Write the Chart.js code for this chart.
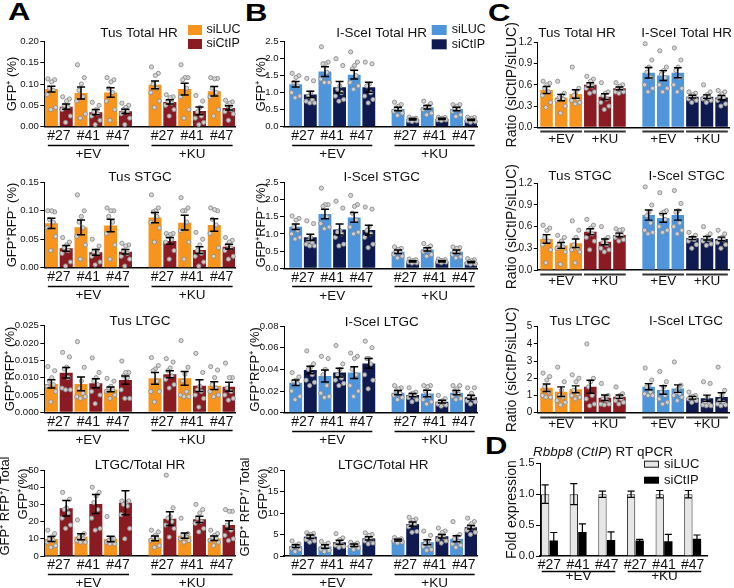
<!DOCTYPE html>
<html><head><meta charset="utf-8">
<script src="https://cdn.jsdelivr.net/npm/chart.js@4/dist/chart.umd.min.js"></script>
<style>
html,body{margin:0;padding:0;background:#fff;}
#root{position:relative;width:734px;height:588px;overflow:hidden;font-family:"Liberation Sans",Arial,Helvetica,sans-serif;}
canvas{position:absolute;}
.lab{position:absolute;font-weight:bold;font-size:23px;line-height:23px;transform:scaleX(1.35);transform-origin:0 0;color:#000;}
</style></head><body><div id="root">
<div class="lab" style="left:8px;top:1px">A</div>
<div class="lab" style="left:245px;top:2px">B</div>
<div class="lab" style="left:488px;top:2px">C</div>
<div class="lab" style="left:485px;top:435px">D</div>
</div>
<script>
// ---------------- categories ----------------
const strains = ['#27', '#41', '#47'];
const treatments = ['+EV', '+KU'];
const seriesNames = ['siLUC', 'siCtIP'];

// ---------------- Panel A: Tus reporter (order: EV #27,#41,#47, KU #27,#41,#47) ----------------
const tusTotalLuc = [0.088, 0.079, 0.080, 0.098, 0.088, 0.083];
const tusTotalLucSem = [0.007, 0.014, 0.011, 0.009, 0.014, 0.011];
const tusTotalCtip = [0.047, 0.034, 0.036, 0.058, 0.037, 0.044];
const tusTotalCtipSem = [0.006, 0.006, 0.005, 0.005, 0.009, 0.005];
const tusTotalLucPts = [
  [0.112,0.110,0.105,0.090,0.085,0.075,0.045,0.040],
  [0.145,0.115,0.100,0.085,0.070,0.060,0.030,0.020],
  [0.115,0.110,0.105,0.090,0.080,0.060,0.040,0.015],
  [0.140,0.125,0.120,0.100,0.090,0.080,0.060,0.045],
  [0.145,0.115,0.115,0.110,0.090,0.070,0.040,0.020],
  [0.115,0.113,0.112,0.090,0.080,0.070,0.040,0.025]];
const tusTotalCtipPts = [
  [0.070,0.065,0.060,0.050,0.045,0.040,0.025,0.010],
  [0.057,0.050,0.040,0.035,0.030,0.025,0.015,0.005],
  [0.055,0.050,0.045,0.040,0.035,0.030,0.020,0.005],
  [0.075,0.070,0.068,0.060,0.055,0.050,0.040,0.025],
  [0.073,0.060,0.045,0.035,0.025,0.020,0.010,0.005],
  [0.062,0.058,0.055,0.050,0.040,0.035,0.030,0.015]];

const tusStgcLuc = [0.078, 0.071, 0.074, 0.088, 0.079, 0.075];
const tusStgcLucSem = [0.009, 0.013, 0.011, 0.009, 0.013, 0.011];
const tusStgcCtip = [0.034, 0.027, 0.028, 0.047, 0.031, 0.037];
const tusStgcCtipSem = [0.005, 0.005, 0.004, 0.006, 0.006, 0.004];
const tusStgcLucPts = [
  [0.100,0.098,0.100,0.085,0.080,0.070,0.055,0.030],
  [0.128,0.100,0.090,0.080,0.070,0.055,0.040,0.015],
  [0.105,0.100,0.100,0.090,0.080,0.060,0.040,0.015],
  [0.128,0.105,0.100,0.098,0.090,0.080,0.070,0.045],
  [0.123,0.105,0.100,0.100,0.080,0.065,0.045,0.015],
  [0.105,0.100,0.102,0.085,0.075,0.060,0.035,0.020]];
const tusStgcCtipPts = [
  [0.053,0.045,0.040,0.035,0.030,0.025,0.010,0.003],
  [0.050,0.038,0.030,0.028,0.025,0.020,0.010,0.005],
  [0.043,0.040,0.038,0.030,0.025,0.020,0.015,0.003],
  [0.060,0.060,0.058,0.055,0.050,0.045,0.030,0.015],
  [0.062,0.050,0.040,0.030,0.025,0.020,0.010,0.003],
  [0.053,0.048,0.045,0.040,0.035,0.030,0.020,0.015]];

const tusLtgcLuc = [0.0082, 0.0082, 0.0066, 0.0098, 0.0098, 0.0077];
const tusLtgcLucSem = [0.0012, 0.0020, 0.0007, 0.0017, 0.0020, 0.0011];
const tusLtgcCtip = [0.0114, 0.0084, 0.0093, 0.0110, 0.0077, 0.0074];
const tusLtgcCtipSem = [0.0015, 0.0013, 0.0012, 0.0010, 0.0017, 0.0013];
const tusLtgcLucPts = [
  [0.0132,0.0120,0.0100,0.0090,0.0080,0.0075,0.0060,0.0030],
  [0.0204,0.0130,0.0090,0.0070,0.0055,0.0045,0.0045,0.0040],
  [0.0098,0.0090,0.0075,0.0070,0.0065,0.0060,0.0050,0.0040],
  [0.0158,0.0135,0.0125,0.0120,0.0090,0.0060,0.0060,0.0030],
  [0.0207,0.0130,0.0110,0.0090,0.0060,0.0050,0.0045,0.0045],
  [0.0132,0.0122,0.0100,0.0080,0.0070,0.0060,0.0050,0.0045]];
const tusLtgcCtipPts = [
  [0.0173,0.0160,0.0130,0.0125,0.0100,0.0070,0.0065,0.0065],
  [0.0157,0.0115,0.0100,0.0090,0.0080,0.0060,0.0050,0.0025],
  [0.0148,0.0115,0.0115,0.0105,0.0100,0.0065,0.0040,0.0040],
  [0.0155,0.0145,0.0128,0.0120,0.0105,0.0095,0.0080,0.0070],
  [0.0170,0.0115,0.0075,0.0065,0.0060,0.0050,0.0040,0.0015],
  [0.0142,0.0100,0.0100,0.0070,0.0060,0.0050,0.0040,0.0035]];

const tusFracLuc = [9.9, 11.2, 9.9, 10.3, 11.8, 10.3];
const tusFracLucSem = [1.5, 1.7, 1.6, 1.4, 1.5, 1.3];
const tusFracCtip = [27.7, 30.2, 31.0, 21.7, 21.3, 18.0];
const tusFracCtipSem = [4.5, 5.5, 7.0, 4.0, 1.8, 2.5];
const tusFracLucPts = [
  [15,13,11,10,9,8,6,5], [21,13,12,11,10,9,8,8], [23,10,10,9,8,8,7,7],
  [15,14,12,11,10,9,6,5], [22,13,12,12,11,10,9,8], [15,13,12,11,10,9,8,6]];
const tusFracCtipPts = [
  [37,33,28,27,25,22,18,16], [40,37,35,31,27,22,16,15], [32,32,31,30,29,24,16,10],
  [47,28,23,22,20,18,16,11], [30,27,25,22,20,19,16,14], [27,26,26,18,15,12,10,9]];

// ---------------- Panel B: I-SceI reporter ----------------
const isceTotalLuc = [1.25, 1.62, 1.53, 0.52, 0.57, 0.52];
const isceTotalLucSem = [0.08, 0.14, 0.13, 0.05, 0.05, 0.05];
const isceTotalCtip = [0.95, 1.16, 1.16, 0.22, 0.23, 0.20];
const isceTotalCtipSem = [0.09, 0.17, 0.15, 0.02, 0.02, 0.02];
const isceTotalLucPts = [
  [1.57,1.50,1.45,1.30,1.20,1.00,0.90,0.85],
  [2.35,1.90,1.85,1.85,1.60,1.40,1.30,1.30],
  [2.20,1.90,1.80,1.70,1.50,1.30,1.20,1.10],
  [0.72,0.65,0.60,0.55,0.50,0.45,0.40,0.33],
  [0.75,0.68,0.60,0.58,0.55,0.50,0.40,0.35],
  [0.65,0.65,0.60,0.55,0.50,0.45,0.35,0.30]];
const isceTotalCtipPts = [
  [1.42,1.35,1.00,0.90,0.80,0.75,0.70,0.70],
  [2.00,1.80,1.20,1.10,1.00,0.90,0.80,0.75],
  [1.90,1.85,1.25,1.20,1.00,0.90,0.80,0.70],
  [0.28,0.25,0.23,0.22,0.20,0.18,0.17,0.15],
  [0.28,0.27,0.25,0.23,0.22,0.20,0.20,0.18],
  [0.28,0.27,0.25,0.22,0.20,0.17,0.15,0.13]];

const isceStgcLuc = [1.21, 1.58, 1.48, 0.48, 0.55, 0.48];
const isceStgcLucSem = [0.08, 0.14, 0.14, 0.05, 0.05, 0.05];
const isceStgcCtip = [0.90, 1.13, 1.11, 0.20, 0.20, 0.18];
const isceStgcCtipSem = [0.09, 0.16, 0.14, 0.02, 0.02, 0.02];
const isceStgcLucPts = [
  [1.52,1.45,1.40,1.20,1.10,1.00,0.90,0.85],
  [2.33,1.85,1.85,1.80,1.50,1.30,1.20,1.15],
  [2.12,1.85,1.80,1.60,1.40,1.20,1.05,1.00],
  [0.62,0.58,0.55,0.50,0.45,0.40,0.35,0.30],
  [0.72,0.65,0.60,0.55,0.52,0.48,0.40,0.35],
  [0.62,0.60,0.58,0.50,0.45,0.40,0.33,0.30]];
const isceStgcCtipPts = [
  [1.38,1.30,0.90,0.80,0.75,0.70,0.65,0.65],
  [1.95,1.75,1.10,1.05,1.00,0.90,0.70,0.65],
  [1.78,1.72,1.20,1.10,1.00,0.90,0.70,0.60],
  [0.27,0.25,0.22,0.20,0.19,0.18,0.16,0.15],
  [0.27,0.25,0.23,0.21,0.20,0.19,0.18,0.16],
  [0.28,0.25,0.22,0.20,0.18,0.15,0.13,0.12]];

const isceLtgcLuc = [0.0277, 0.0338, 0.0370, 0.0185, 0.0178, 0.0185];
const isceLtgcLucSem = [0.0025, 0.0055, 0.0055, 0.0020, 0.0030, 0.0020];
const isceLtgcCtip = [0.0394, 0.0370, 0.0455, 0.0163, 0.0102, 0.0142];
const isceLtgcCtipSem = [0.0035, 0.0040, 0.0045, 0.0015, 0.0012, 0.0018];
const isceLtgcLucPts = [
  [0.037,0.033,0.030,0.029,0.027,0.020,0.015,0.012],
  [0.052,0.050,0.040,0.035,0.025,0.018,0.015,0.014],
  [0.055,0.052,0.050,0.040,0.035,0.025,0.020,0.015],
  [0.025,0.023,0.022,0.020,0.018,0.016,0.014,0.012],
  [0.025,0.025,0.024,0.020,0.015,0.012,0.010,0.008],
  [0.025,0.025,0.022,0.020,0.017,0.015,0.013,0.012]];
const isceLtgcCtipPts = [
  [0.057,0.045,0.042,0.040,0.035,0.030,0.028,0.025],
  [0.062,0.045,0.040,0.035,0.032,0.030,0.027,0.025],
  [0.066,0.060,0.050,0.050,0.045,0.035,0.030,0.022],
  [0.023,0.019,0.018,0.017,0.015,0.014,0.012,0.010],
  [0.016,0.013,0.011,0.010,0.009,0.008,0.007,0.006],
  [0.023,0.023,0.018,0.015,0.013,0.011,0.010,0.008]];

const isceFracLuc = [2.3, 2.2, 2.5, 3.7, 3.2, 4.0];
const isceFracLucSem = [0.3, 0.4, 0.3, 0.2, 0.6, 0.7];
const isceFracCtip = [4.5, 3.2, 4.1, 7.4, 4.6, 6.7];
const isceFracCtipSem = [0.4, 0.45, 0.4, 0.5, 0.4, 0.4];
const isceFracLucPts = [
  [3.5,2.8,2.5,2.3,2.0,1.8,1.5,1.0], [3.4,3.0,2.6,2.2,2.0,1.6,1.3,1.0], [3.2,3.0,2.7,2.5,2.3,2.2,1.8,1.5],
  [4.3,4.0,3.8,3.7,3.6,3.5,3.2,3.0], [5.8,4.8,3.5,3.0,2.5,2.2,1.5,1.3], [8.0,5.0,4.5,4.0,3.3,2.8,2.5,2.0]];
const isceFracCtipPts = [
  [5.4,5.2,5.0,4.8,4.3,3.8,3.5,3.2], [5.2,4.2,3.8,3.0,2.8,2.5,2.2,2.0], [5.4,5.0,4.8,4.2,3.8,3.5,3.0,2.8],
  [9.0,8.6,8.3,7.8,7.3,6.8,5.7,5.5], [6.5,5.8,5.5,4.8,4.3,3.8,3.5,3.0], [8.8,8.0,7.5,7.0,6.5,6.0,5.5,5.0]];

// ---------------- Panel C: ratios siCtIP/siLUC (EV #27,#41,#47, KU #27,#41,#47) ----------------
const ratioTusTotal = [0.527, 0.42, 0.47, 0.60, 0.433, 0.55];
const ratioTusTotalSem = [0.05, 0.045, 0.06, 0.03, 0.04, 0.02];
const ratioIsceTotal = [0.77, 0.73, 0.77, 0.433, 0.433, 0.42];
const ratioIsceTotalSem = [0.075, 0.07, 0.07, 0.02, 0.025, 0.03];
const ratioTusTotalPts = [
  [0.65,0.62,0.60,0.55,0.50,0.45,0.35,0.28], [0.65,0.48,0.45,0.42,0.40,0.38,0.30,0.20],
  [0.85,0.55,0.50,0.45,0.40,0.38,0.35,0.33], [0.72,0.68,0.65,0.60,0.58,0.55,0.50,0.48],
  [0.63,0.50,0.48,0.45,0.40,0.35,0.30,0.25], [0.63,0.60,0.58,0.55,0.53,0.50,0.50,0.48]];
const ratioIsceTotalPts = [
  [1.18,0.95,0.85,0.78,0.70,0.60,0.55,0.50], [1.08,0.85,0.80,0.75,0.70,0.60,0.55,0.50],
  [1.12,0.95,0.85,0.80,0.70,0.60,0.55,0.50], [0.50,0.48,0.46,0.44,0.42,0.40,0.38,0.35],
  [0.60,0.50,0.46,0.44,0.42,0.40,0.38,0.35], [0.52,0.50,0.47,0.44,0.42,0.38,0.33,0.30]];

const ratioTusStgc = [0.43, 0.34, 0.37, 0.53, 0.39, 0.485];
const ratioTusStgcSem = [0.06, 0.04, 0.06, 0.04, 0.04, 0.025];
const ratioIsceStgc = [0.76, 0.72, 0.76, 0.44, 0.44, 0.43];
const ratioIsceStgcSem = [0.07, 0.06, 0.07, 0.02, 0.025, 0.025];
const ratioTusStgcPts = [
  [0.62,0.58,0.55,0.45,0.40,0.35,0.28,0.10], [0.48,0.45,0.40,0.35,0.32,0.30,0.25,0.08],
  [0.68,0.55,0.45,0.35,0.30,0.28,0.25,0.10], [0.70,0.62,0.58,0.55,0.50,0.45,0.40,0.28],
  [0.60,0.45,0.42,0.38,0.35,0.30,0.28,0.25], [0.57,0.56,0.55,0.50,0.48,0.45,0.42,0.40]];
const ratioIsceStgcPts = [
  [1.15,0.90,0.80,0.75,0.65,0.55,0.52,0.50], [1.07,0.82,0.80,0.78,0.70,0.60,0.55,0.52],
  [1.10,0.92,0.82,0.80,0.65,0.60,0.55,0.50], [0.52,0.48,0.45,0.43,0.42,0.40,0.35,0.30],
  [0.60,0.50,0.46,0.44,0.42,0.40,0.36,0.34], [0.55,0.50,0.45,0.43,0.42,0.38,0.35,0.30]];

const ratioTusLtgc = [1.45, 1.22, 1.36, 1.51, 0.87, 0.93];
const ratioTusLtgcSem = [0.22, 0.28, 0.20, 0.38, 0.16, 0.10];
const ratioIsceLtgc = [1.51, 1.32, 1.40, 0.87, 0.84, 0.91];
const ratioIsceLtgcSem = [0.18, 0.25, 0.22, 0.08, 0.18, 0.25];
const ratioTusLtgcPts = [
  [2.3,2.1,1.9,1.5,1.2,1.0,0.9,0.9], [2.65,1.8,1.3,1.0,0.9,0.7,0.6,0.45],
  [2.2,2.0,1.8,1.3,1.1,1.0,0.9,0.8], [4.0,2.0,1.8,1.5,1.0,0.8,0.5,0.4],
  [1.7,1.0,0.9,0.8,0.7,0.5,0.5,0.45], [1.5,1.1,1.0,0.9,0.8,0.7,0.6,0.5]];
const ratioIsceLtgcPts = [
  [2.6,1.9,1.6,1.5,1.2,1.1,1.0,1.0], [2.4,1.8,1.5,1.2,1.0,0.8,0.6,0.5],
  [2.95,1.6,1.4,1.2,1.1,1.0,0.9,0.7], [1.2,1.0,0.95,0.9,0.85,0.8,0.7,0.6],
  [1.8,1.7,0.9,0.6,0.5,0.45,0.4,0.4], [2.65,1.3,1.0,0.7,0.6,0.5,0.45,0.4]];

// ---------------- Panel D: Rbbp8 (CtIP) RT qPCR ----------------
const foldLuc = [1.0, 1.0, 1.0, 1.0, 1.0, 1.0];
const foldLucSem = [0.15, 0.17, 0.05, 0.05, 0.06, 0.06];
const foldCtip = [0.25, 0.39, 0.26, 0.25, 0.24, 0.28];
const foldCtipSem = [0.13, 0.13, 0.13, 0.02, 0.11, 0.06];

// ---------------- styling ----------------
const FONT = '"Liberation Sans", Arial, Helvetica, sans-serif';
const ORANGE = '#F7941E', DRED = '#8A1B22', LBLUE = '#4F95DC', NAVY = '#0F1A50';
const INK = '#111';
const JIT = [-0.55, 0.5, 0.05, -0.3, 0.3, -0.65, 0.65, -0.1];
const root = document.getElementById('root');
const fnt = (size, style) => (style ? style + ' ' : '') + size + 'px ' + FONT;

const decorPlugin = {
  id: 'decor',
  afterDatasetsDraw(chart, args, o) {
    const ctx = chart.ctx, ys = chart.scales.y;
    ctx.save();
    chart.data.datasets.forEach((ds, di) => {
      const meta = chart.getDatasetMeta(di);
      meta.data.forEach((bar, i) => {
        const pts = ds.dots && ds.dots[i];
        if (!pts) return;
        pts.forEach((v, k) => {
          const px = bar.x + JIT[k % JIT.length] * bar.width / 2;
          const py = ys.getPixelForValue(v);
          ctx.beginPath(); ctx.arc(px, py, 2.1, 0, Math.PI * 2);
          ctx.fillStyle = 'rgba(212,212,212,0.95)'; ctx.fill();
          ctx.lineWidth = 0.9; ctx.strokeStyle = '#8c8c8c'; ctx.stroke();
        });
      });
    });
    chart.data.datasets.forEach((ds, di) => {
      if (!ds.sem) return;
      const meta = chart.getDatasetMeta(di);
      meta.data.forEach((bar, i) => {
        const m = ds.data[i].y, s = ds.sem[i];
        const yTop = ys.getPixelForValue(m + s), yBot = ys.getPixelForValue(Math.max(m - s, 0));
        const cw = bar.width * (o.cap || 0.62) / 2;
        ctx.strokeStyle = '#000'; ctx.lineWidth = o.ebw || 1.5;
        ctx.beginPath();
        ctx.moveTo(bar.x, yBot); ctx.lineTo(bar.x, yTop);
        ctx.moveTo(bar.x - cw, yTop); ctx.lineTo(bar.x + cw, yTop);
        ctx.moveTo(bar.x - cw, yBot); ctx.lineTo(bar.x + cw, yBot);
        ctx.stroke();
      });
    });
    ctx.restore();
  },
  afterDraw(chart, args, o) {
    const ctx = chart.ctx, xs = chart.scales.x, area = chart.chartArea;
    const ox = o.ox, oy = o.oy;
    ctx.save();
    ctx.fillStyle = INK; ctx.textAlign = 'center'; ctx.textBaseline = 'middle';
    (o.titles || []).forEach(t => {
      ctx.font = fnt(t.size || 13.5);
      ctx.fillText(t.text, t.x - ox, t.y - oy);
    });
    if (o.rich) {
      const segs = o.rich.segs;
      let total = 0;
      segs.forEach(s => { ctx.font = fnt(o.rich.size, s.it ? 'italic' : ''); total += ctx.measureText(s.t).width; });
      let x = o.rich.x - ox - total / 2;
      ctx.textAlign = 'left';
      segs.forEach(s => { ctx.font = fnt(o.rich.size, s.it ? 'italic' : ''); ctx.fillText(s.t, x, o.rich.y - oy); x += ctx.measureText(s.t).width; });
      ctx.textAlign = 'center';
    }
    (o.ytitles || []).forEach(t => {
      ctx.save();
      const cyy = t.y != null ? t.y - oy : (area.top + area.bottom) / 2;
      ctx.translate(t.x - ox, cyy); ctx.rotate(-Math.PI / 2);
      ctx.font = fnt(t.size || 13);
      ctx.fillText(t.text, 0, 0);
      ctx.restore();
    });
    (o.groups || []).forEach(g => {
      const x0 = xs.getPixelForValue(g.from), x1 = xs.getPixelForValue(g.to);
      const uy = Math.round(area.bottom + o.lineDy) + 0.5;
      ctx.strokeStyle = o.lineColor || '#000'; ctx.lineWidth = o.lineW || 1.3;
      ctx.beginPath(); ctx.moveTo(x0, uy); ctx.lineTo(x1, uy); ctx.stroke();
      ctx.font = fnt(o.groupSize || 13.5);
      ctx.fillStyle = INK;
      ctx.fillText(g.label, (x0 + x1) / 2, area.bottom + o.labelDy);
    });
    (o.legend || []).forEach(l => {
      ctx.fillStyle = l.color; ctx.fillRect(l.x - ox, l.y - oy, l.w, l.h);
      if (l.border) { ctx.strokeStyle = l.border; ctx.lineWidth = 1; ctx.strokeRect(l.x - ox + 0.5, l.y - oy + 0.5, l.w - 1, l.h - 1); }
      ctx.fillStyle = INK; ctx.textAlign = 'left'; ctx.font = fnt(l.size || 12.5);
      ctx.fillText(l.text, l.x - ox + l.w + l.gap, l.y - oy + l.h / 2);
      ctx.textAlign = 'center';
    });
    ctx.restore();
  }
};

function makeChart(c) {
  const [cx, cy, cx2, cy2] = c.box, [l, t, r, b] = c.area;
  const cv = document.createElement('canvas');
  cv.width = cx2 - cx; cv.height = cy2 - cy;
  cv.style.left = cx + 'px'; cv.style.top = cy + 'px';
  cv.style.width = (cx2 - cx) + 'px'; cv.style.height = (cy2 - cy) + 'px';
  root.appendChild(cv);
  return new Chart(cv.getContext('2d'), {
    type: 'bar',
    data: { datasets: c.datasets },
    options: {
      responsive: false, maintainAspectRatio: false, animation: false, devicePixelRatio: 1, events: [],
      layout: { padding: { left: 0, top: t - cy, right: cx2 - r, bottom: 0 } },
      plugins: { legend: { display: false }, tooltip: { enabled: false }, title: { display: false },
        decor: Object.assign({ ox: cx, oy: cy }, c.decor) },
      scales: {
        x: {
          type: 'linear', min: c.xmin, max: c.xmax, offset: false,
          afterFit: s => { s.height = cy2 - b; },
          afterBuildTicks: s => { s.ticks = c.xticks.map(v => ({ value: v })); },
          grid: { display: false, drawTicks: false },
          border: { display: true, color: '#000', width: c.xBorder || 1.5 },
          ticks: { display: !!c.xlabels, autoSkip: false, maxRotation: 0, minRotation: 0, padding: c.xpad || 1,
            color: INK, font: { family: FONT, size: 14 },
            callback: (v, i) => c.xlabels ? c.xlabels[i] : '' }
        },
        y: {
          min: 0, max: c.ymax,
          afterFit: s => { s.width = l - cx; },
          ticks: { stepSize: c.ystep, padding: 1.5, color: INK, font: { family: FONT, size: c.yfont || 9.6 },
            callback: v => Number(v).toFixed(c.ydec) },
          grid: { display: true, drawOnChartArea: false, drawTicks: true, tickLength: 4, color: '#000', lineWidth: 1 },
          border: { display: true, color: '#000', width: 1 }
        }
      }
    },
    plugins: [decorPlugin]
  });
}

// ---- A & B: paired bars per strain ----
function pairPanel(p) {
  const n = strains.length;
  const px = i => i + (i >= n ? 0.5 : 0);
  const mk = (vals, sem, pts, color, label) => ({
    label, data: vals.map((v, i) => ({ x: px(i), y: v })), sem, dots: pts,
    backgroundColor: color, borderWidth: 0, categoryPercentage: 1, barPercentage: 0.88
  });
  const xt = p.luc.map((_, i) => px(i));
  const groups = treatments.map((tr, g) => ({ label: tr, from: px(g * n) - 0.37, to: px(g * n + n - 1) + 0.37 }));
  const decor = Object.assign({ groups, lineDy: 18, labelDy: 27.5, cap: 0.62, ebw: 1.5 }, p.decor);
  makeChart({
    box: p.box, area: p.area, xmin: p.xmin, xmax: 5.95, xticks: xt, xlabels: xt.map((_, i) => strains[i % n]),
    ymax: p.ymax, ystep: p.ystep, ydec: p.ydec,
    datasets: [mk(p.luc, p.lucSem, p.lucPts, p.colors[0], seriesNames[0]), mk(p.ctip, p.ctipSem, p.ctipPts, p.colors[1], seriesNames[1])],
    decor
  });
}

const legendA = (c0, c1, x, y0, y1, w, gap) => [
  { color: c0, text: seriesNames[0], x, y: y0, w, h: 10, gap },
  { color: c1, text: seriesNames[1], x, y: y1, w, h: 10, gap }];

pairPanel({ box: [0, 0, 240, 165], area: [44.3, 41.3, 235, 126.7], xmin: -0.49, ymax: 0.2, ystep: 0.05, ydec: 2,
  colors: [ORANGE, DRED], luc: tusTotalLuc, lucSem: tusTotalLucSem, lucPts: tusTotalLucPts,
  ctip: tusTotalCtip, ctipSem: tusTotalCtipSem, ctipPts: tusTotalCtipPts,
  decor: { titles: [{ text: 'Tus Total HR', x: 139, y: 33 }], ytitles: [{ text: 'GFP⁺ (%)', x: 12.7 }],
    legend: legendA(ORANGE, DRED, 188, 25, 39, 14, 4.5) } });
pairPanel({ box: [0, 140, 240, 305], area: [44.3, 182.3, 235, 267.7], xmin: -0.49, ymax: 0.15, ystep: 0.05, ydec: 2,
  colors: [ORANGE, DRED], luc: tusStgcLuc, lucSem: tusStgcLucSem, lucPts: tusStgcLucPts,
  ctip: tusStgcCtip, ctipSem: tusStgcCtipSem, ctipPts: tusStgcCtipPts,
  decor: { titles: [{ text: 'Tus STGC', x: 140, y: 177 }], ytitles: [{ text: 'GFP⁺RFP⁻ (%)', x: 12.7 }] } });
pairPanel({ box: [0, 285, 240, 450], area: [44.3, 325.7, 235, 412.3], xmin: -0.49, ymax: 0.025, ystep: 0.005, ydec: 3,
  colors: [ORANGE, DRED], luc: tusLtgcLuc, lucSem: tusLtgcLucSem, lucPts: tusLtgcLucPts,
  ctip: tusLtgcCtip, ctipSem: tusLtgcCtipSem, ctipPts: tusLtgcCtipPts,
  decor: { titles: [{ text: 'Tus LTGC', x: 140, y: 321.7 }], ytitles: [{ text: 'GFP⁺RFP⁺ (%)', x: 10 }] } });
pairPanel({ box: [0, 430, 240, 588], area: [44.3, 470, 235, 556], xmin: -0.49, ymax: 50, ystep: 10, ydec: 0,
  colors: [ORANGE, DRED], luc: tusFracLuc, lucSem: tusFracLucSem, lucPts: tusFracLucPts,
  ctip: tusFracCtip, ctipSem: tusFracCtipSem, ctipPts: tusFracCtipPts,
  decor: { titles: [{ text: 'LTGC/Total HR', x: 140, y: 465.3 }],
    ytitles: [{ text: 'GFP⁺ RFP⁺/ Total', x: 5.5, y: 506 }, { text: 'GFP⁺(%)', x: 23.3, y: 494 }] } });

pairPanel({ box: [240, 0, 500, 165], area: [284, 41.7, 477, 126.7], xmin: -0.65, ymax: 2.5, ystep: 0.5, ydec: 1,
  colors: [LBLUE, NAVY], luc: isceTotalLuc, lucSem: isceTotalLucSem, lucPts: isceTotalLucPts,
  ctip: isceTotalCtip, ctipSem: isceTotalCtipSem, ctipPts: isceTotalCtipPts,
  decor: { titles: [{ text: 'I-SceI Total HR', x: 381.7, y: 33 }], ytitles: [{ text: 'GFP⁺ (%)', x: 261.7 }],
    legend: legendA(LBLUE, NAVY, 431.7, 25, 39.3, 15, 5) } });
pairPanel({ box: [240, 140, 500, 305], area: [284, 182.3, 477, 268.3], xmin: -0.65, ymax: 2.5, ystep: 0.5, ydec: 1,
  colors: [LBLUE, NAVY], luc: isceStgcLuc, lucSem: isceStgcLucSem, lucPts: isceStgcLucPts,
  ctip: isceStgcCtip, ctipSem: isceStgcCtipSem, ctipPts: isceStgcCtipPts,
  decor: { titles: [{ text: 'I-SceI STGC', x: 381.7, y: 177.3 }], ytitles: [{ text: 'GFP⁺RFP⁻ (%)', x: 261.7 }] } });
pairPanel({ box: [240, 285, 500, 450], area: [284, 326, 477, 412.7], xmin: -0.65, ymax: 0.08, ystep: 0.02, ydec: 2,
  colors: [LBLUE, NAVY], luc: isceLtgcLuc, lucSem: isceLtgcLucSem, lucPts: isceLtgcLucPts,
  ctip: isceLtgcCtip, ctipSem: isceLtgcCtipSem, ctipPts: isceLtgcCtipPts,
  decor: { titles: [{ text: 'I-SceI LTGC', x: 381.7, y: 322.3 }], ytitles: [{ text: 'GFP⁺RFP⁺ (%)', x: 255 }] } });
pairPanel({ box: [240, 430, 500, 588], area: [284, 470, 477, 556], xmin: -0.65, ymax: 20, ystep: 5, ydec: 0,
  colors: [LBLUE, NAVY], luc: isceFracLuc, lucSem: isceFracLucSem, lucPts: isceFracLucPts,
  ctip: isceFracCtip, ctipSem: isceFracCtipSem, ctipPts: isceFracCtipPts,
  decor: { titles: [{ text: 'LTGC/Total HR', x: 383.3, y: 465.7 }],
    ytitles: [{ text: 'GFP⁺ RFP⁺/ Total', x: 245, y: 507 }, { text: 'GFP⁺(%)', x: 263, y: 494 }] } });

// ---- C: ratio panels ----
function ratioPanel(p) {
  const n = strains.length;
  const px = i => i + (i >= 2 * n ? 1 : 0);
  const vals = p.tus.concat(p.isce);
  const colors = [ORANGE, DRED, LBLUE, NAVY].flatMap(c => strains.map(() => c));
  const xt = vals.map((_, i) => px(i));
  const groups = [0, 1, 2, 3].map(g => ({ label: treatments[g % 2], from: px(g * n) - 0.43, to: px(g * n + n - 1) + 0.43 }));
  makeChart({
    box: p.box, area: p.area, xmin: -0.6, xmax: 12.51, xticks: xt, xlabels: null,
    ymax: p.ymax, ystep: p.ystep, ydec: p.ydec, yfont: 10,
    datasets: [{ label: 'ratio', data: vals.map((v, i) => ({ x: px(i), y: v })),
      sem: p.tusSem.concat(p.isceSem), dots: p.tusPts.concat(p.iscePts),
      backgroundColor: colors, borderWidth: 0, categoryPercentage: 1, barPercentage: 0.86 }],
    decor: { groups, lineDy: 3.8, labelDy: 11.5, lineW: 2, lineColor: '#333', cap: 0.62, ebw: 1.4,
      titles: p.titles, ytitles: [{ text: 'Ratio (siCtIP/siLUC)', x: 511.7, size: 14 }] }
  });
}
ratioPanel({ box: [480, 0, 734, 165], area: [537.8, 42.3, 729, 127.3], ymax: 1.2, ystep: 0.3, ydec: 1,
  tus: ratioTusTotal, tusSem: ratioTusTotalSem, tusPts: ratioTusTotalPts,
  isce: ratioIsceTotal, isceSem: ratioIsceTotalSem, iscePts: ratioIsceTotalPts,
  titles: [{ text: 'Tus Total HR', x: 577, y: 33.3 }, { text: 'I-SceI Total HR', x: 686.7, y: 33.3 }] });
ratioPanel({ box: [480, 140, 734, 305], area: [537.8, 183.3, 729, 270], ymax: 1.2, ystep: 0.3, ydec: 1,
  tus: ratioTusStgc, tusSem: ratioTusStgcSem, tusPts: ratioTusStgcPts,
  isce: ratioIsceStgc, isceSem: ratioIsceStgcSem, iscePts: ratioIsceStgcPts,
  titles: [{ text: 'Tus STGC', x: 580, y: 176.7 }, { text: 'I-SceI STGC', x: 686.7, y: 176.7 }] });
ratioPanel({ box: [480, 285, 734, 440], area: [537.8, 326.7, 729, 412.7], ymax: 5, ystep: 1, ydec: 0,
  tus: ratioTusLtgc, tusSem: ratioTusLtgcSem, tusPts: ratioTusLtgcPts,
  isce: ratioIsceLtgc, isceSem: ratioIsceLtgcSem, iscePts: ratioIsceLtgcPts,
  titles: [{ text: 'Tus LTGC', x: 580, y: 321 }, { text: 'I-SceI LTGC', x: 686, y: 321 }] });

// ---- D: qPCR ----
(function () {
  const n = strains.length;
  const xt = foldLuc.map((_, i) => i);
  const groups = treatments.map((tr, g) => ({ label: tr, from: g * n - 0.27, to: g * n + n - 1 + 0.3 }));
  makeChart({
    box: [480, 425, 734, 588], area: [540, 463.3, 707, 556], xmin: -0.33, xmax: 5.5, xticks: xt,
    xlabels: xt.map(i => strains[i % n]), xpad: 0.6,
    ymax: 1.5, ystep: 0.5, ydec: 1, yfont: 11.3,
    datasets: [
      { label: seriesNames[0], data: foldLuc.map((v, i) => ({ x: i, y: v })), sem: foldLucSem,
        backgroundColor: '#e6e6e6', borderColor: '#222', borderWidth: 1, categoryPercentage: 0.6, barPercentage: 0.97 },
      { label: seriesNames[1], data: foldCtip.map((v, i) => ({ x: i, y: v })), sem: foldCtipSem,
        backgroundColor: '#000', borderWidth: 0, categoryPercentage: 0.6, barPercentage: 0.97 }],
    decor: { groups, lineDy: 14.5, labelDy: 20.5, lineW: 1.3, cap: 0.85, ebw: 1.2,
      rich: { x: 603, y: 452.7, size: 13.5, segs: [{ t: 'Rbbp8', it: true }, { t: ' (' }, { t: 'CtIP', it: true }, { t: ') RT qPCR' }] },
      ytitles: [{ text: 'Fold expression', x: 511.7, size: 14 }],
      legend: [{ color: '#e6e6e6', border: '#222', text: seriesNames[0], x: 644, y: 460.7, w: 15, h: 7, gap: 5, size: 13 },
               { color: '#000', text: seriesNames[1], x: 644, y: 476.7, w: 15, h: 7, gap: 5, size: 13 }] }
  });
})();
</script>
</body></html>
